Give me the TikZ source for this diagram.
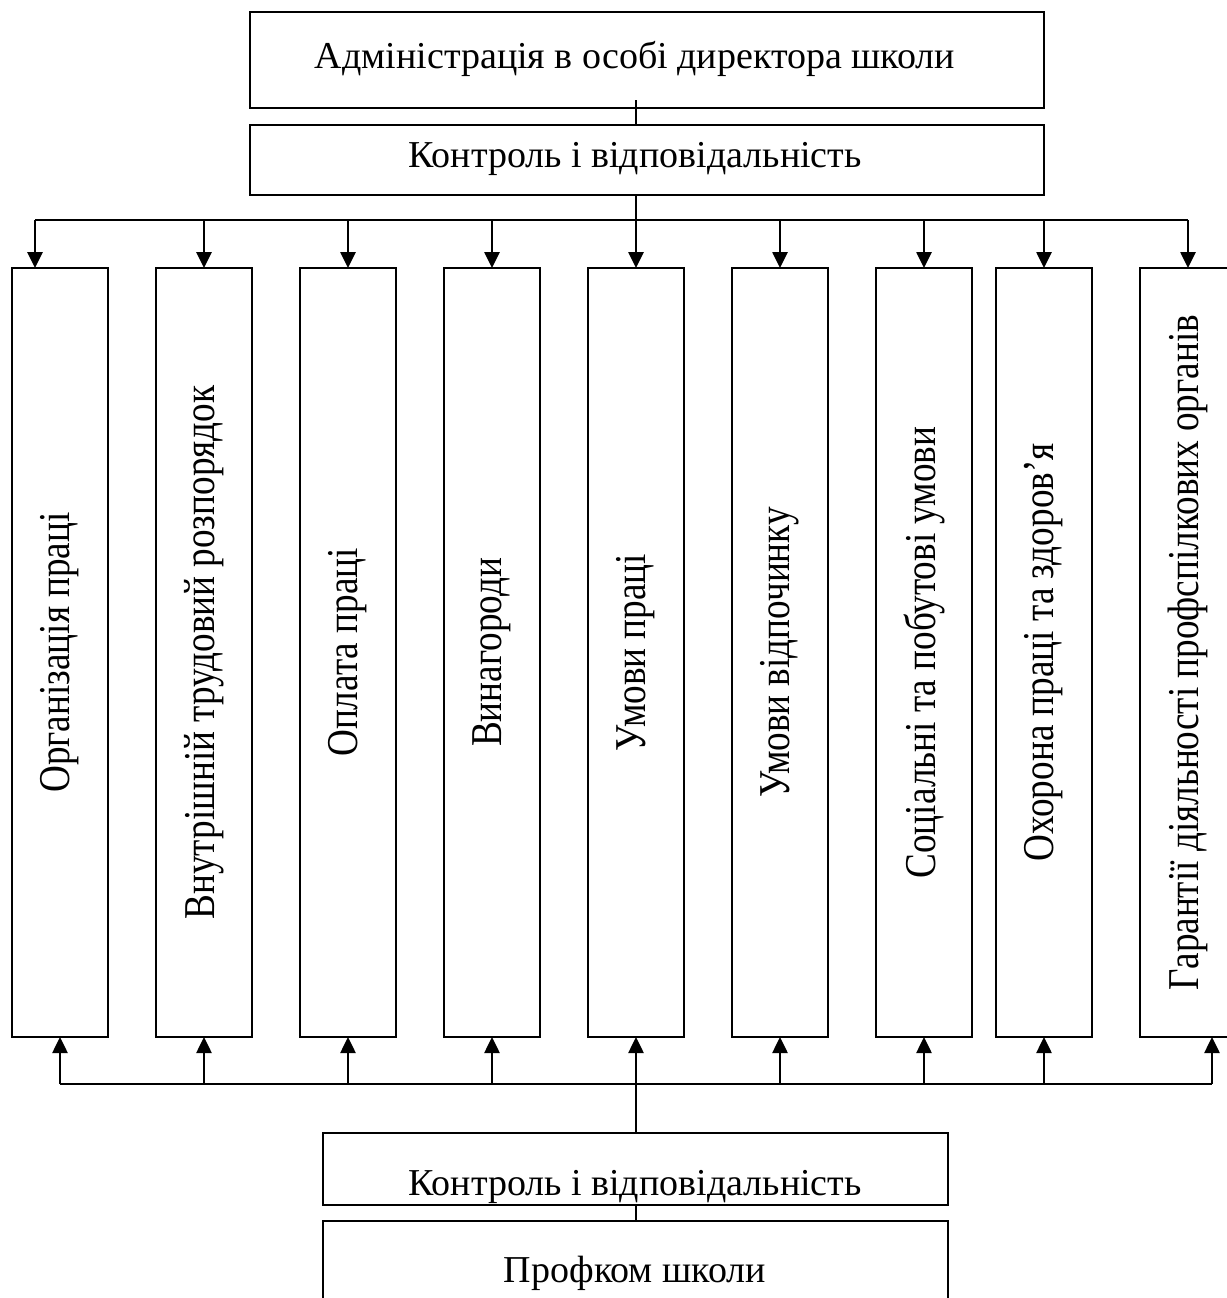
\documentclass[tikz,border=0pt]{standalone}
\usepackage{fontspec}
\setmainfont{Liberation Serif}
\newfontfamily\vfont[FakeStretch=0.845]{Liberation Serif}
\usetikzlibrary{arrows.meta}
\begin{document}
\begin{tikzpicture}[x=0.5pt,y=-0.5pt,
  box/.style={draw, line width=1.3pt, inner sep=0pt, outer sep=0pt},
  htext/.style={anchor=base, inner sep=0pt, font=\fontsize{19pt}{22pt}\selectfont},
  vtext/.style={rotate=90, inner sep=0pt, font=\vfont\fontsize{22pt}{25pt}\selectfont},
  link/.style={line width=1.3pt},
  arr/.style={line width=1.3pt, -{Triangle[width=7.5pt,length=8pt]}}]
\useasboundingbox (0,0) rectangle (1227,1298);
% top boxes
\node[box, minimum width=397pt, minimum height=48pt] (adm) at (647,60) {};
\node[box, minimum width=397pt, minimum height=35pt] (ctl1) at (647,160) {};
% column boxes
\foreach \i/\cx in {1/60,2/204,3/348,4/492,5/636,6/780,7/924,8/1044,9/1188}
  \node[box, minimum width=48pt, minimum height=384.5pt] (b\i) at (\cx,652.5) {};
% bottom boxes
\node[box, minimum width=312.5pt, minimum height=36pt] (ctl2) at (635.5,1169) {};
\node[box, minimum width=312.5pt, minimum height=54.5pt] (prof) at (635.5,1275.5) {};
% texts
\node[htext] (ta) at (635,68) {Адміністрація в особі директора школи};
\node[htext] (tc1) at (635,167) {Контроль і відповідальність};
\node[htext] (tc2) at (635,1195) {Контроль і відповідальність};
\node[htext] (tp) at (635,1282) {Профком школи};
\node[vtext] (t1) at (b1) {Організація праці};
\node[vtext] (t2) at (b2) {Внутрішній трудовий розпорядок};
\node[vtext] (t3) at (b3) {Оплата праці};
\node[vtext] (t4) at (b4) {Винагороди};
\node[vtext] (t5) at (b5) {Умови праці};
\node[vtext] (t6) at (b6) {Умови відпочинку};
\node[vtext] (t7) at (b7) {Соціальні та побутові умови};
\node[vtext] (t8) at (b8) {Охорона праці та здоров’я};
\node[vtext] (t9) at (b9) {Гарантії діяльності профспілкових органів};
% connectors
\coordinate (mx) at (636,0);
\coordinate (tl) at (35,220);
\coordinate (tr) at (1188,220);
\coordinate (bl) at (60,1084);
\coordinate (br) at (1212,1084);
\draw[link] ([yshift=4pt]adm.south -| mx) -- (ctl1.north -| mx);
\draw[link] (ctl1.south -| mx) -- (tl -| mx);
\draw[link] (tl) -- (tr);
\draw[arr] (tl) -- (tl |- b1.north);
\foreach \i in {2,...,9}
  \draw[arr] (b\i.north |- tl) -- (b\i.north);
\draw[link] (bl) -- (br);
\foreach \i in {1,...,8}
  \draw[arr] (b\i.south |- bl) -- (b\i.south);
\draw[arr] (br) -- (br |- b9.south);
\draw[link] (bl -| mx) -- (ctl2.north -| mx);
\draw[link] (ctl2.south -| mx) -- (prof.north -| mx);
\end{tikzpicture}
\end{document}
